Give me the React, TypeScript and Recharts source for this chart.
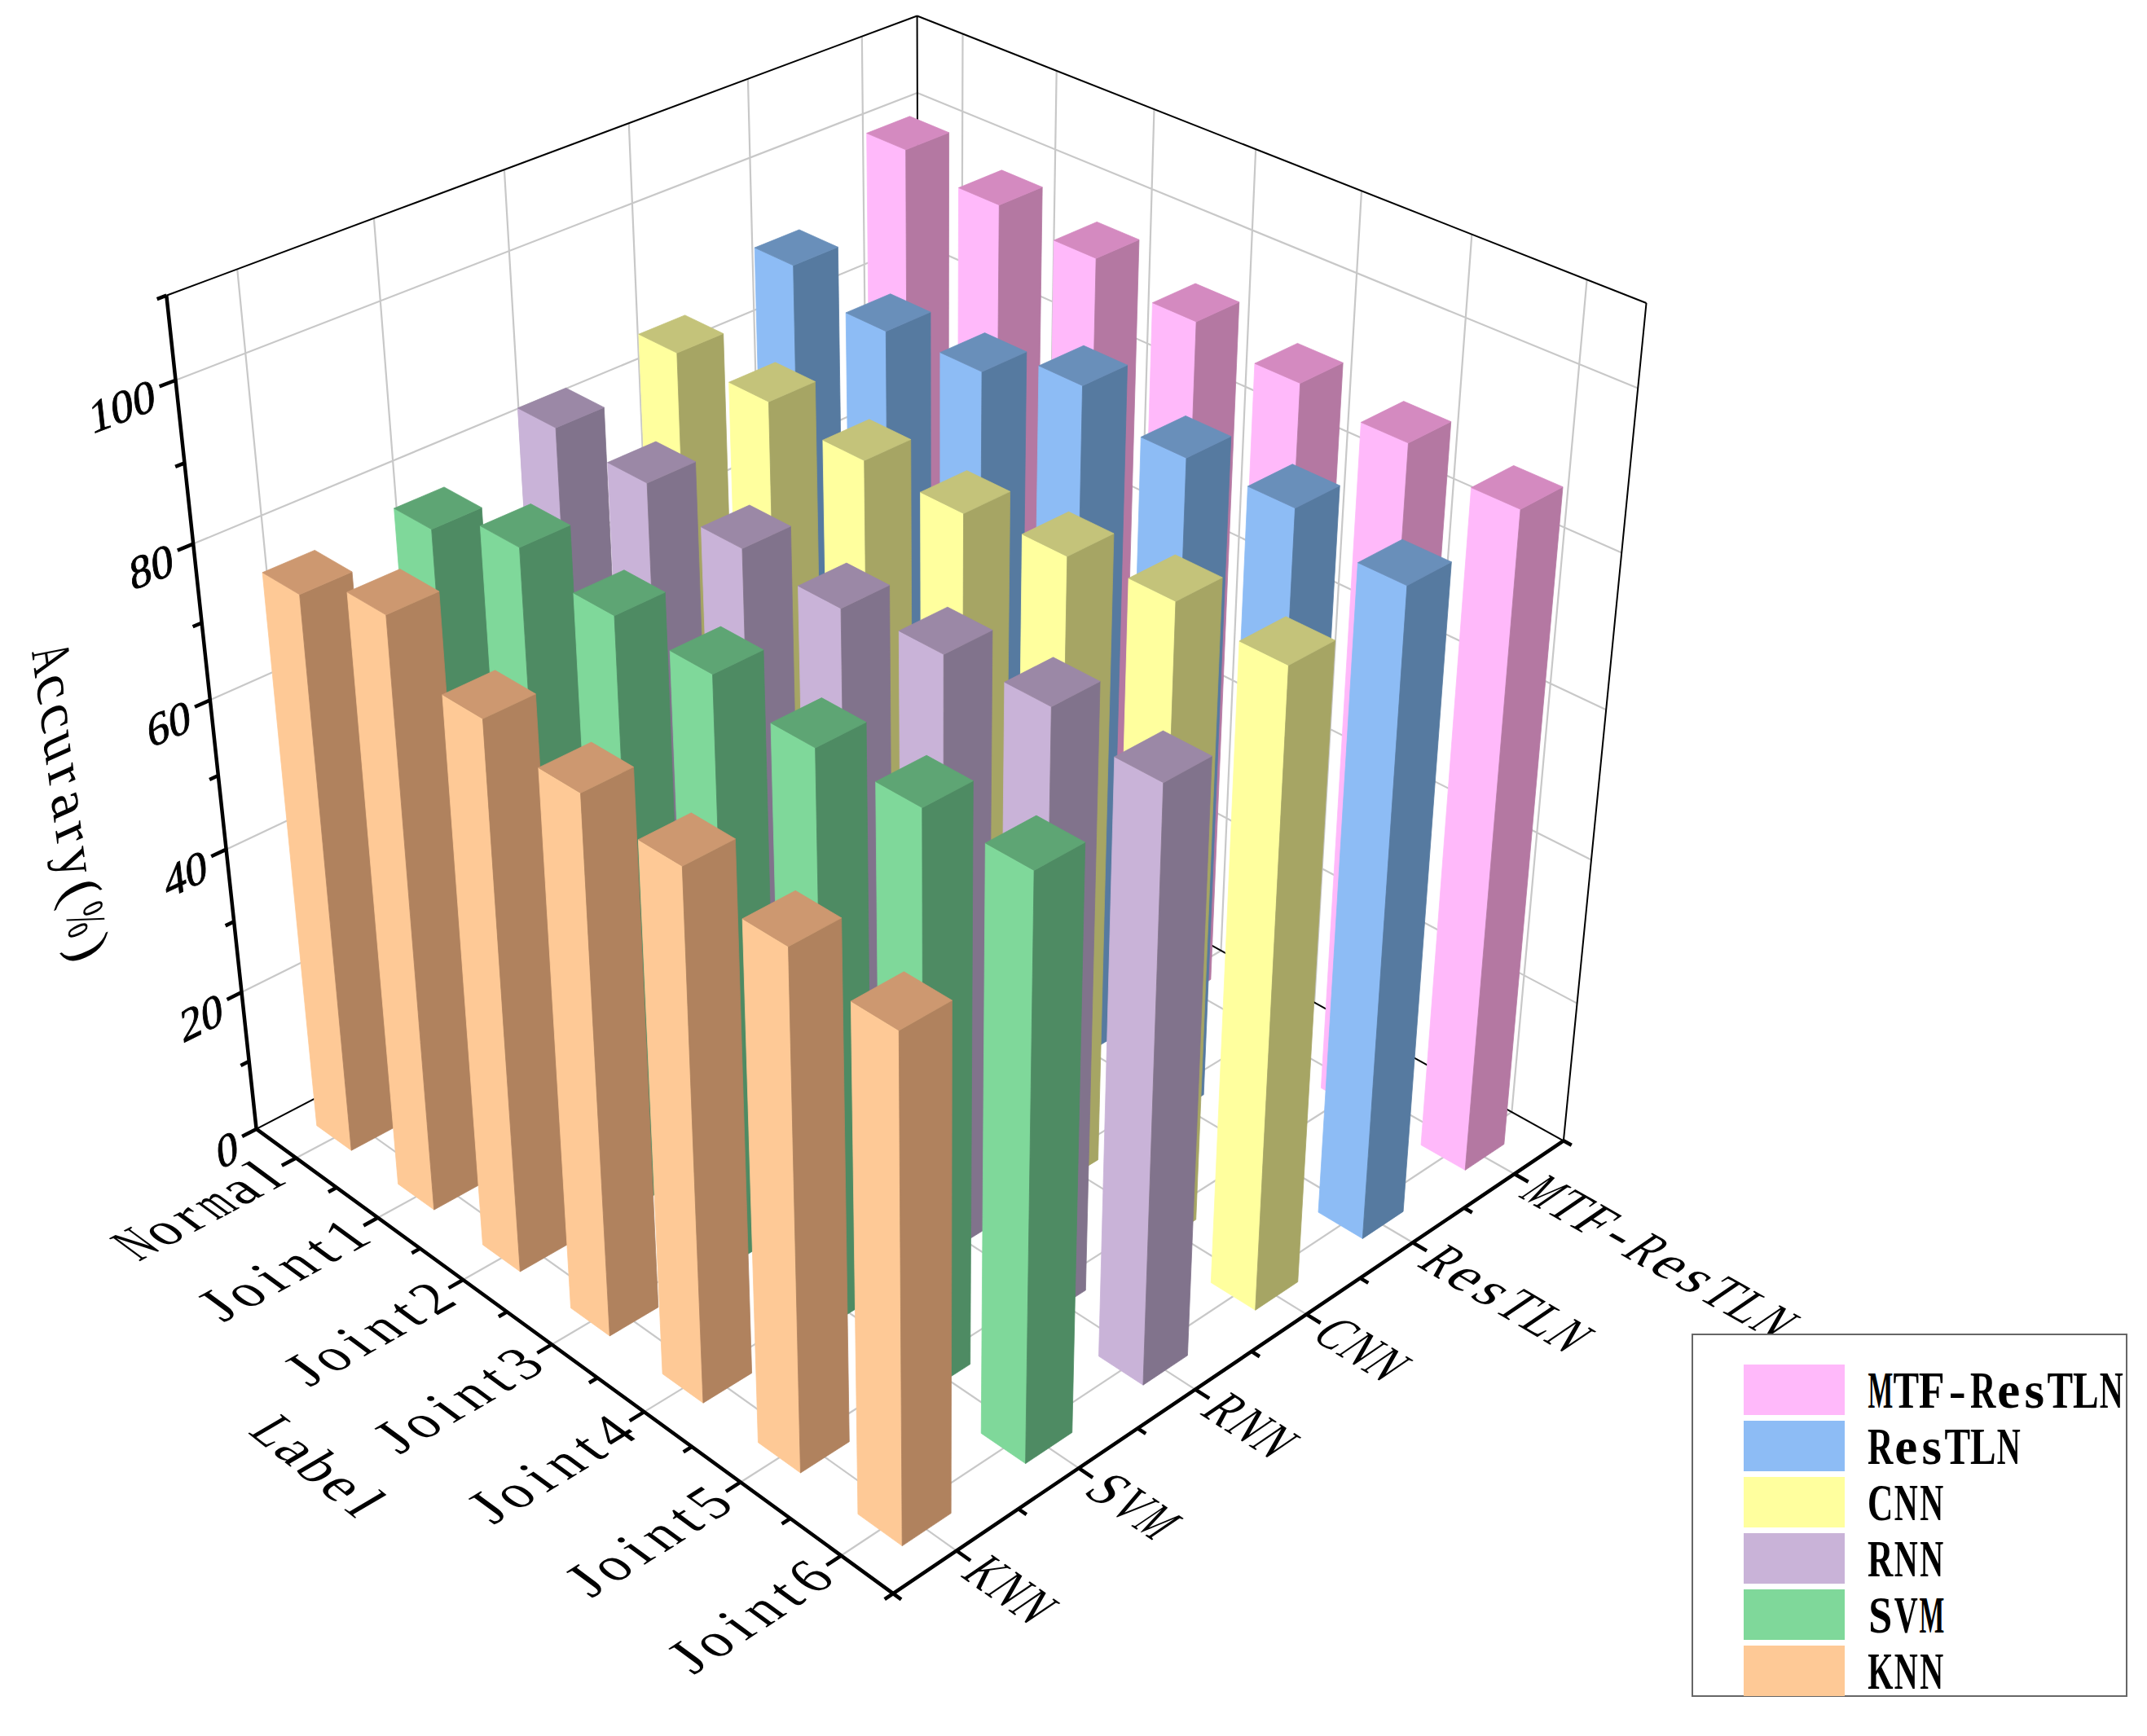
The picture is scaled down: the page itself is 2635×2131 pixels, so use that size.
import React from "react";
import { ScatterChart, Scatter, XAxis, YAxis } from "recharts";

const W = 2635;
const H = 2131;

// categories
const labels = ["Normal", "Joint1", "Joint2", "Joint3", "Joint4", "Joint5", "Joint6"];
const models = ["KNN", "SVM", "RNN", "CNN", "ResTLN", "MTF-ResTLN"];

// accuracy (%) per model, one value per label
const knn = [76, 80, 74, 72, 70.5, 68.5, 66.5];
const svm = [77, 81, 79, 78.5, 76.5, 76.5, 76.5];
const rnn = [83, 82, 80, 79, 80, 80.5, 78.5];
const cnn = [86, 85.5, 84, 83.5, 84.5, 85.5, 84.5];
const resTLN = [91, 88, 88.5, 92.5, 89.5, 89.5, 86.5];
const mtfResTLN = [100, 98, 96.5, 94, 92, 90.5, 88.5];

const zMajorTicks = [0, 20, 40, 60, 80, 100];
const zMinorTicks = [10, 30, 50, 70, 90, 110];
const zMax = 110;

const series = [knn, svm, rnn, cnn, resTLN, mtfResTLN];
const palette = [
  { light: "#FEC996", dark: "#B0825E", top: "#CD9870" },
  { light: "#7FD89A", dark: "#4E8B63", top: "#5EA574" },
  { light: "#C9B3D8", dark: "#81738C", top: "#9B88A6" },
  { light: "#FFFF9E", dark: "#A6A564", top: "#C4C37A" },
  { light: "#8DBCF5", dark: "#567AA0", top: "#698FBA" },
  { light: "#FFB9FA", dark: "#B478A2", top: "#D48AC0" },
];

// 3D view of the unit box (a: label axis, b: model axis, z: value)
const view = { azimuth: 136.3, elevation: 32, roll: -0.28, distance: 4.275, focal: 5151, cx: 1112, cy: 912 };
const barHalfA = 0.0307;
const barHalfB = 0.0325;

type V3 = [number, number, number];
type V2 = [number, number];
const rad = Math.PI / 180;
const dot3 = (p: V3, q: V3) => p[0] * q[0] + p[1] * q[1] + p[2] * q[2];
const cross3 = (p: V3, q: V3): V3 => [p[1] * q[2] - p[2] * q[1], p[2] * q[0] - p[0] * q[2], p[0] * q[1] - p[1] * q[0]];
const norm3 = (p: V3): V3 => {
  const l = Math.hypot(p[0], p[1], p[2]);
  return [p[0] / l, p[1] / l, p[2] / l];
};

const az = view.azimuth * rad;
const el = view.elevation * rad;
const fwd: V3 = [Math.cos(el) * Math.cos(az), Math.cos(el) * Math.sin(az), -Math.sin(el)];
const right = norm3([fwd[1], -fwd[0], 0]);
const down = cross3(fwd, right);
const eye: V3 = [0.5 - view.distance * fwd[0], 0.5 - view.distance * fwd[1], 0.5 - view.distance * fwd[2]];
const cr = Math.cos(view.roll * rad);
const sr = Math.sin(view.roll * rad);

function project(p: V3) {
  const d: V3 = [p[0] - eye[0], p[1] - eye[1], p[2] - eye[2]];
  const x = dot3(d, right);
  const y = dot3(d, down);
  const depth = dot3(d, fwd);
  const xr = x * cr - y * sr;
  const yr = x * sr + y * cr;
  return { x: view.cx + (view.focal * xr) / depth, y: view.cy + (view.focal * yr) / depth, depth };
}

const pt = (p: V3) => {
  const s = project(p);
  return { x: s.x, y: s.y };
};

// screen direction of a 3D direction at a point
function dirAt(p: V3, dv: V3): V2 {
  const s0 = project(p);
  const s1 = project([p[0] + dv[0] * 0.001, p[1] + dv[1] * 0.001, p[2] + dv[2] * 0.001]);
  const l = Math.hypot(s1.x - s0.x, s1.y - s0.y);
  return [(s1.x - s0.x) / l, (s1.y - s0.y) / l];
}

const aPos = (i: number) => (i + 0.5) / labels.length;
const bPos = (j: number) => (j + 0.5) / models.length;
const zPos = (v: number) => v / zMax;

const segData = (segs: [V3, V3][]) => segs.flatMap(([p, q]) => [pt(p), pt(q)]);

const noDot = () => <g />;

const segLine = (stroke: string, width: number) => (props: any) => {
  const pts = props.points || [];
  let d = "";
  for (let k = 0; k + 1 < pts.length; k += 2) {
    d += `M${pts[k].x},${pts[k].y}L${pts[k + 1].x},${pts[k + 1].y}`;
  }
  return <path d={d} stroke={stroke} strokeWidth={width} fill="none" strokeLinecap="butt" />;
};

const barFaces = (c: { light: string; dark: string; top: string }) => (props: any) => {
  const p = props.points || [];
  if (p.length < 8) return <g />;
  const poly = (idx: number[]) => idx.map((k) => `${p[k].x},${p[k].y}`).join(" ");
  return (
    <g>
      <polygon points={poly([0, 1, 5, 4])} fill={c.light} stroke={c.light} strokeWidth={0.8} />
      <polygon points={poly([1, 2, 6, 5])} fill={c.dark} stroke={c.dark} strokeWidth={0.8} />
      <polygon points={poly([4, 5, 6, 7])} fill={c.top} stroke={c.top} strokeWidth={0.8} />
    </g>
  );
};

// grid on back walls and floor
const wallGrid: [V3, V3][] = [];
models.forEach((_, j) => wallGrid.push([[0, bPos(j), 0], [0, bPos(j), 1]]));
labels.forEach((_, i) => wallGrid.push([[aPos(i), 1, 0], [aPos(i), 1, 1]]));
zMajorTicks.filter((z) => z > 0).forEach((z) => {
  wallGrid.push([[0, 0, zPos(z)], [0, 1, zPos(z)]]);
  wallGrid.push([[0, 1, zPos(z)], [1, 1, zPos(z)]]);
});
labels.forEach((_, i) => wallGrid.push([[aPos(i), 0, 0], [aPos(i), 1, 0]]));
models.forEach((_, j) => wallGrid.push([[0, bPos(j), 0], [1, bPos(j), 0]]));

const backFrame: [V3, V3][] = [
  [[0, 0, 1], [0, 1, 1]],
  [[0, 1, 1], [1, 1, 1]],
  [[0, 1, 0], [0, 1, 1]],
  [[1, 1, 0], [1, 1, 1]],
  [[0, 0, 0], [0, 1, 0]],
  [[0, 1, 0], [1, 1, 0]],
];

const majorLen = 0.019;
const minorLen = 0.011;
const axisLines: [V3, V3][] = [
  [[0, 0, 0], [0, 0, 1]],
  [[0, 0, 0], [1, 0, 0]],
  [[1, 0, 0], [1, 1, 0]],
];
zMajorTicks.forEach((z) => axisLines.push([[0, 0, zPos(z)], [0, -majorLen, zPos(z)]]));
zMinorTicks.forEach((z) => axisLines.push([[0, 0, zPos(z)], [0, -minorLen, zPos(z)]]));
labels.forEach((_, i) => axisLines.push([[aPos(i), 0, 0], [aPos(i), -majorLen, 0]]));
for (let k = 0; k <= labels.length; k++) axisLines.push([[k / labels.length, 0, 0], [k / labels.length, -minorLen, 0]]);
models.forEach((_, j) => axisLines.push([[1, bPos(j), 0], [1 + majorLen, bPos(j), 0]]));
for (let k = 0; k <= models.length; k++) axisLines.push([[1, k / models.length, 0], [1 + minorLen, k / models.length, 0]]);

// bars, far ones first
const bars = series
  .flatMap((vals, j) => vals.map((v, i) => ({ i, j, v })))
  .map((b) => ({ ...b, depth: project([aPos(b.i), bPos(b.j), 0.3]).depth }))
  .sort((p, q) => q.depth - p.depth);

function barCorners(i: number, j: number, v: number) {
  const a0 = aPos(i) - barHalfA;
  const a1 = aPos(i) + barHalfA;
  const b0 = bPos(j) - barHalfB;
  const b1 = bPos(j) + barHalfB;
  const z1 = zPos(v);
  const c: V3[] = [
    [a0, b0, 0], [a1, b0, 0], [a1, b1, 0], [a0, b1, 0],
    [a0, b0, z1], [a1, b0, z1], [a1, b1, z1], [a0, b1, z1],
  ];
  return c.map(pt);
}

// fixed-pitch serif text: every glyph sits in its own cell, wide capitals are narrowed
const serifFont = "'Liberation Serif', 'Times New Roman', serif";
const glyphEm: Record<string, number> = {
  A: 0.722, C: 0.667, F: 0.556, J: 0.389, K: 0.722, L: 0.611, M: 0.889, N: 0.722, R: 0.667, S: 0.556, T: 0.611, V: 0.722,
  a: 0.444, b: 0.5, c: 0.444, e: 0.444, i: 0.278, l: 0.278, m: 0.778, n: 0.5, o: 0.5, r: 0.333, s: 0.389, t: 0.278,
  u: 0.5, y: 0.5, "-": 0.333, "(": 0.333, ")": 0.333, "%": 0.833,
};

function monoGlyphs(text: string, adv: number, size: number, u: V2, v: V2, ox: number, oy: number, anchor: string, weight = 400) {
  const chars = Array.from(text);
  const n = chars.length;
  const start = anchor === "end" ? -n * adv : anchor === "middle" ? (-n * adv) / 2 : 0;
  return chars.map((ch, k) => {
    const s = start + (k + 0.5) * adv;
    const w = (glyphEm[ch] ?? 0.5) * size;
    const q = Math.min(1, (0.92 * adv) / w);
    const px = ox + u[0] * s;
    const py = oy + u[1] * s;
    return (
      <text
        key={k}
        transform={`matrix(${u[0] * q} ${u[1] * q} ${v[0]} ${v[1]} ${px} ${py})`}
        x={0}
        y={0}
        textAnchor="middle"
        dominantBaseline="central"
        fontFamily={serifFont}
        fontSize={size}
        fontWeight={weight}
        fill="#000"
      >
        {ch}
      </text>
    );
  });
}

function MonoText(props: any) {
  const { cx, cy, payload } = props;
  const { text, u, v, anchor, adv, size } = payload;
  return <g>{monoGlyphs(text, adv, size, u, v, cx, cy, anchor)}</g>;
}

function ZTickText(props: any) {
  const { cx, cy, payload } = props;
  const { text, u, v } = payload;
  return (
    <text
      transform={`matrix(${u[0]} ${u[1]} ${v[0]} ${v[1]} ${cx} ${cy})`}
      x={-7}
      y={6}
      textAnchor="end"
      dominantBaseline="central"
      fontFamily={serifFont}
      fontSize={57}
      fill="#000"
      stroke="#000"
      strokeWidth={0.9}
    >
      {text}
    </text>
  );
}

const labelText = (p: V3, text: string, u: V2, v: V2, anchor: string, adv: number, size: number) => {
  const s = pt(p);
  return { x: s.x, y: s.y, text, u, v, anchor, adv, size };
};

const zTickLabels = zMajorTicks.map((z) => {
  const p: V3 = [0, -majorLen, zPos(z)];
  const s = pt(p);
  return { x: s.x, y: s.y, text: String(z), u: dirAt(p, [0, 1, 0]), v: dirAt(p, [0, 0, -1]) };
});

const catLabels = labels.map((name, i) => {
  const p: V3 = [aPos(i), -majorLen - 0.006, 0];
  return labelText(p, name, dirAt(p, [0, 1, 0]), dirAt(p, [1, 0, 0]), "end", 36, 72);
});

const modelLabels = models.map((name, j) => {
  const p: V3 = [1 + majorLen + 0.006, bPos(j), 0];
  return labelText(p, name, dirAt(p, [1, 0, 0]), dirAt(p, [0, -1, 0]), "start", 36, 72);
});

const titles = [
  (() => {
    const p: V3 = [0.485, -0.28, 0];
    return labelText(p, "Label", dirAt(p, [1, 0, 0]), dirAt(p, [0, -1, 0]), "middle", 36, 72);
  })(),
  (() => {
    const p: V3 = [0, -0.175, 0.5];
    return labelText(p, "Accurary(%)", dirAt(p, [0, 0, -1]), dirAt(p, [0, -1, 0]), "middle", 36, 72);
  })(),
];

function LegendBox() {
  const order = [5, 4, 3, 2, 1, 0];
  return (
    <svg style={{ position: "absolute", left: 2076, top: 1637, overflow: "visible" }} width={559} height={494}>
      <rect x={1} y={1} width={533} height={444} fill="#fff" stroke="#666" strokeWidth={2} />
      {order.map((j, r) => (
        <g key={models[j]}>
          <rect x={64} y={38 + r * 69} width={124} height={62} fill={palette[j].light} />
          {monoGlyphs(models[j], 31.5, 63, [1, 0], [0, 1], 216, 38 + r * 69 + 32, "start", 700)}
        </g>
      ))}
    </svg>
  );
}

export default function App() {
  return (
    <div style={{ position: "relative", width: W, height: H, margin: -8, background: "#fff", overflow: "hidden" }}>
      <ScatterChart width={W} height={H} margin={{ top: 0, right: 0, bottom: 0, left: 0 }}>
        <XAxis type="number" dataKey="x" domain={[0, W]} scale="linear" allowDataOverflow hide />
        <YAxis type="number" dataKey="y" domain={[0, H]} scale="linear" allowDataOverflow reversed hide />

        <Scatter data={segData(wallGrid)} shape={noDot} line={segLine("#C8C8C8", 2.2)} legendType="none" isAnimationActive={false} />
        <Scatter data={segData(backFrame)} shape={noDot} line={segLine("#000", 2)} legendType="none" isAnimationActive={false} />

        {bars.map((b) => (
          <Scatter
            key={`bar-${b.j}-${b.i}`}
            data={barCorners(b.i, b.j, b.v)}
            shape={noDot}
            line={barFaces(palette[b.j])}
            legendType="none"
            isAnimationActive={false}
          />
        ))}

        <Scatter data={segData(axisLines)} shape={noDot} line={segLine("#000", 4.5)} legendType="none" isAnimationActive={false} />
        <Scatter data={zTickLabels} shape={ZTickText} legendType="none" isAnimationActive={false} />
        <Scatter data={catLabels} shape={MonoText} legendType="none" isAnimationActive={false} />
        <Scatter data={modelLabels} shape={MonoText} legendType="none" isAnimationActive={false} />
        <Scatter data={titles} shape={MonoText} legendType="none" isAnimationActive={false} />
      </ScatterChart>
      <LegendBox />
    </div>
  );
}
